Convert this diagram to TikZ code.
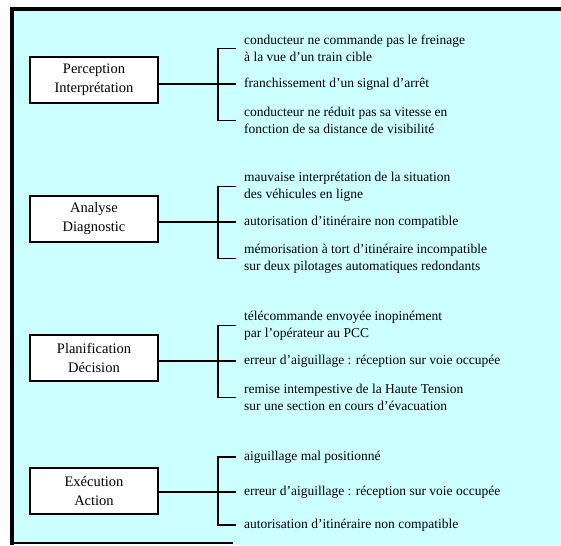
\documentclass[tikz,border=0pt]{standalone}
\usepackage{fontspec}
\setmainfont{Liberation Serif}
\definecolor{bgcyan}{RGB}{204,255,255}
\begin{document}
\begin{tikzpicture}[x=1pt,y=-1pt,
  stagebox/.style={draw,line width=2.6pt,fill=white,minimum width=128pt,minimum height=46pt,align=center,font=\fontsize{14.5}{19}\selectfont,inner sep=0pt},
  item/.style={anchor=west,align=left,font=\fontsize{13.5}{17}\selectfont,inner sep=0pt},
  link/.style={line width=1.8pt},
  frameline/.style={line width=3.5pt}]
\useasboundingbox (0,0) rectangle (561,545);
\fill[bgcyan] (12,9) rectangle (561,545);
\fill[white] (0,543) rectangle (233,545);
\draw[frameline] (12,545) -- (12,9);
\draw[frameline] (10.25,9) -- (561,9);
\draw[line width=1.6pt] (12,543) -- (233,543);

% Group 1
\node[stagebox] (b1) at (94,80) {Perception\\Interprétation};
\node[item] (i11) at (244,48.5) {conducteur ne commande pas le freinage\\à la vue d’un train cible};
\node[item] (i12) at (244,84) {franchissement d’un signal d’arrêt};
\node[item] (i13) at (244,120.5) {conducteur ne réduit pas sa vitesse en\\fonction de sa distance de visibilité};
\coordinate (k1) at (218,84);
\draw[link] (b1.east |- k1) -- ([xshift=-8pt]i12.west);
\draw[link] ([xshift=-8pt]i11.west) -| (k1) |- ([xshift=-8pt]i13.west);

% Group 2
\node[stagebox] (b2) at (94,219) {Analyse\\Diagnostic};
\node[item] (i21) at (244,186.5) {mauvaise interprétation de la situation\\des véhicules en ligne};
\node[item] (i22) at (244,222) {autorisation d’itinéraire non compatible};
\node[item] (i23) at (244,258.5) {mémorisation à tort d’itinéraire incompatible\\sur deux pilotages automatiques redondants};
\coordinate (k2) at (218,222);
\draw[link] (b2.east |- k2) -- ([xshift=-8pt]i22.west);
\draw[link] ([xshift=-8pt]i21.west) -| (k2) |- ([xshift=-8pt]i23.west);

% Group 3
\node[stagebox] (b3) at (94,358) {Planification\\Décision};
\node[item] (i31) at (244,325.5) {télécommande envoyée inopinément\\par l’opérateur au PCC};
\node[item] (i32) at (244,361) {erreur d’aiguillage : réception sur voie occupée};
\node[item] (i33) at (244,397.5) {remise intempestive de la Haute Tension\\sur une section en cours d’évacuation};
\coordinate (k3) at (218,361);
\draw[link] (b3.east |- k3) -- ([xshift=-8pt]i32.west);
\draw[link] ([xshift=-8pt]i31.west) -| (k3) |- ([xshift=-8pt]i33.west);

% Group 4
\node[stagebox] (b4) at (94,491) {Exécution\\Action};
\node[item] (i41) at (244,457) {aiguillage mal positionné};
\node[item] (i42) at (244,492) {erreur d’aiguillage : réception sur voie occupée};
\node[item] (i43) at (244,525) {autorisation d’itinéraire non compatible};
\coordinate (k4) at (218,492);
\draw[link] (b4.east |- k4) -- ([xshift=-8pt]i42.west);
\draw[link] ([xshift=-8pt]i41.west) -| (k4) |- ([xshift=-8pt]i43.west);
\end{tikzpicture}
\end{document}
